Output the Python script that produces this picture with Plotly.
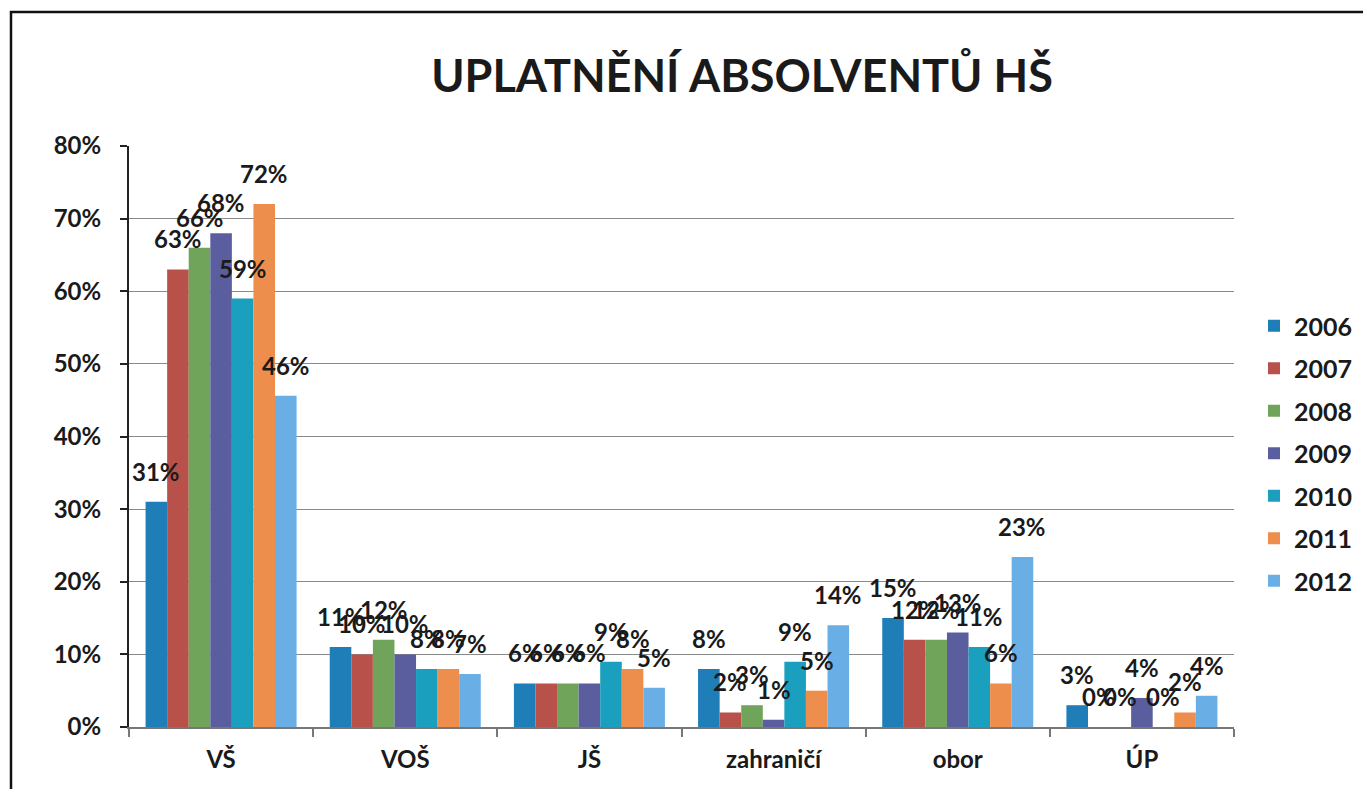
import plotly.graph_objects as go

# data (percent)
categories = ["VŠ", "VOŠ", "JŠ", "zahraničí", "obor", "ÚP"]
years = ["2006", "2007", "2008", "2009", "2010", "2011", "2012"]
v2006 = [31, 11, 6, 8, 15, 3]
v2007 = [63, 10, 6, 2, 12, 0]
v2008 = [66, 12, 6, 3, 12, 0]
v2009 = [68, 10, 6, 1, 13, 4]
v2010 = [59, 8, 9, 9, 11, 0]
v2011 = [72, 8, 8, 5, 6, 2]
v2012 = [45.6, 7.3, 5.4, 14, 23.4, 4.3]
series = [v2006, v2007, v2008, v2009, v2010, v2011, v2012]
colors = ["#1f7db8", "#b9514b", "#6fa45a", "#5a5e9e", "#1a9fbf", "#ee8e4c", "#6aaee6"]

FONT = "Lato"
TXT = "#1a1a1a"

# the page body has an 8px margin: keep the figure inside the window
OFF = 8
FW, FH = 1371 - 2 * OFF, 797 - 2 * OFF
L, T = 129 - OFF, 146 - OFF
R = FW - (1234 - OFF)
B = FH - (727 - OFF)
W = FW - L - R
H = FH - T - B
BARGAP = 0.18
bar_w = W / len(categories) * (1 - BARGAP) / len(years)

fig = go.Figure()
for i, (yr, vals) in enumerate(zip(years, series)):
    fig.add_trace(go.Bar(
        x=categories, y=vals, name=yr, marker_color=colors[i],
        marker_line_width=0, legendgroup=yr,
    ))
    for c, v in zip(categories, vals):
        fig.add_annotation(
            x=c, y=v, text=f"{round(v)}%", showarrow=False,
            xshift=(i - 3) * bar_w, yshift=14, yanchor="bottom",
            font=dict(family=FONT, size=24, color=TXT, weight="bold"),
        )

# chart frame
fig.add_shape(type="rect", xref="paper", yref="paper",
              x0=(11 - 129) / W, x1=(1369 - 129) / W,
              y0=(727 - 805) / H, y1=(727 - 12) / H,
              line=dict(color="#111", width=2.5), fillcolor="rgba(0,0,0,0)",
              layer="below")

fig.update_layout(
    width=FW, height=FH,
    margin=dict(l=L, r=R, t=T, b=B, autoexpand=False),
    paper_bgcolor="white", plot_bgcolor="white",
    barmode="group", bargap=BARGAP, bargroupgap=0,
    title=dict(text="<b>UPLATNĚNÍ ABSOLVENTŮ HŠ</b>", x=(742 - OFF) / FW, xanchor="center",
               y=1 - (76 - OFF) / FH, yanchor="middle",
               font=dict(family=FONT, size=45, color=TXT)),
    legend=dict(x=(1254 - 129) / W, y=(727 - 303) / H, xanchor="left", yanchor="top",
                font=dict(family=FONT, size=25, color=TXT, weight="bold"),
                tracegroupgap=7, traceorder="grouped", bgcolor="rgba(0,0,0,0)"),
    showlegend=True,
)
fig.update_yaxes(
    range=[0, 80], dtick=10, ticksuffix="%",
    showgrid=True, gridcolor="#8a8a8a", gridwidth=1.4,
    showline=True, linecolor="#222", linewidth=2,
    ticks="outside", ticklen=7, tickcolor="#222", tickwidth=2,
    ticklabelstandoff=14,
    tickfont=dict(family=FONT, size=24, color=TXT, weight="bold"),
    zeroline=False,
)
fig.update_xaxes(
    showline=True, linecolor="#777", linewidth=2,
    ticks="outside", tickson="boundaries", ticklen=8, tickcolor="#777", tickwidth=1.5,
    ticklabelstandoff=10,
    tickfont=dict(family=FONT, size=24, color=TXT, weight="bold"),
)

fig.write_html("out.html")
